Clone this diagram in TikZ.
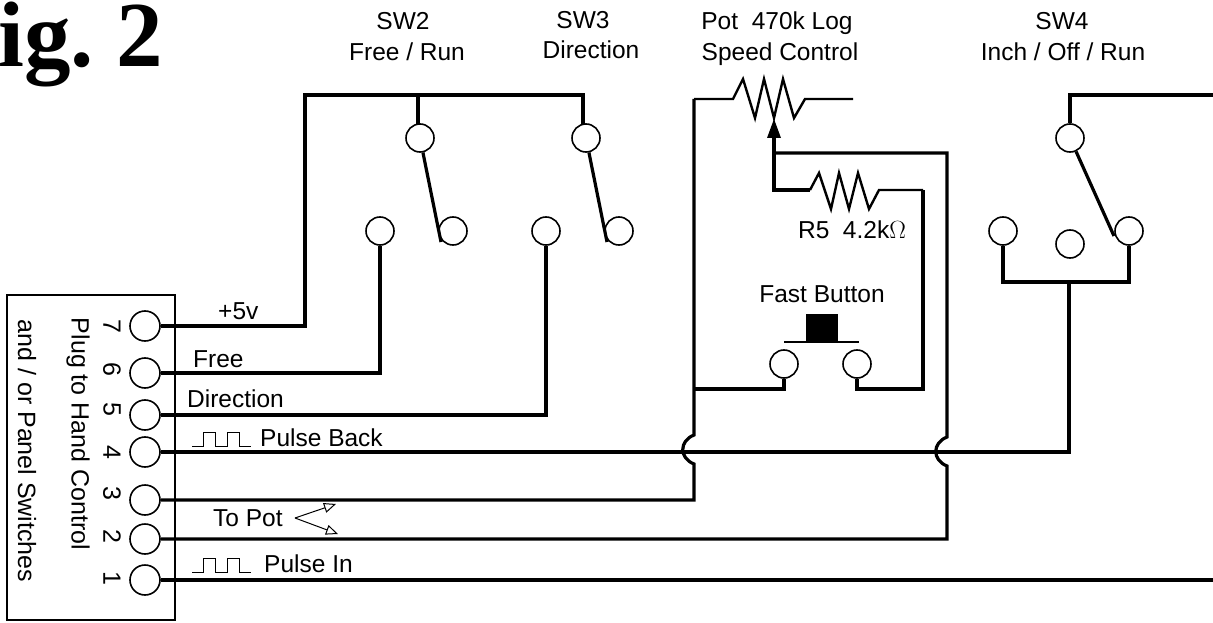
\documentclass[tikz,border=0pt]{standalone}
\usepackage{fontspec}
\setmainfont{Liberation Sans}
\newfontfamily\figfont{Liberation Serif}
\usetikzlibrary{arrows.meta}
\tikzset{
  contact/.style={draw,circle,line width=1.6pt,minimum size=28pt,inner sep=0pt},
  pin/.style={draw,circle,line width=1.6pt,minimum size=30pt,inner sep=0pt},
  lbl/.style={inner sep=0pt,font=\fontsize{24.5}{26}\selectfont},
  sidelbl/.style={inner sep=0pt,rotate=-90,font=\fontsize{25}{26}\selectfont},
  wire/.style={line width=3.2pt,line join=miter},
  thinwire/.style={line width=2.4pt,line join=miter},
  squarewave/.pic={\draw[line width=1pt] (0,0) -- (11,0) -- (11,-14) -- (23,-14) -- (23,0)
    -- (35,0) -- (35,-14) -- (47,-14) -- (47,0) -- (59,0);}
}
\begin{document}
\begin{tikzpicture}[x=1pt,y=-1pt]
      \useasboundingbox (0,0) rectangle (1213,623);
      \draw[line width=1.6pt] (7,295) rectangle (175,620);
      \draw
        (145,326) node[pin] (p7){}
        (145,373) node[pin] (p6){}
        (145,415) node[pin] (p5){}
        (145,452) node[pin] (p4){}
        (145,500) node[pin] (p3){}
        (145,539) node[pin] (p2){}
        (145,580) node[pin] (p1){};
      \draw
        (420,138) node[contact] (sw2c){}
        (380,231) node[contact] (sw2f){}
        (453,231) node[contact] (sw2r){}
        (586,138) node[contact] (sw3c){}
        (546,231) node[contact] (sw3f){}
        (619,231) node[contact] (sw3r){}
        (1070,138) node[contact] (sw4c){}
        (1003,231) node[contact] (sw4i){}
        (1070,244) node[contact] (sw4o){}
        (1129,231) node[contact] (sw4r){}
        (784,364) node[contact] (fb1){}
        (857,364) node[contact] (fb2){};
      \coordinate (a5v) at (305,326);
      \coordinate (b5v) at (305,95);
      \coordinate (c5v) at (583,95);
      \coordinate (d2) at (418,95);
      \coordinate (up2) at (418,124);
      \coordinate (up3) at (583,124);
      \coordinate (end2) at (441,242);
      \coordinate (end3) at (607,242);
      \coordinate (end4) at (1114,236);
      \coordinate (cor4) at (1069,452);
      \coordinate (bar4) at (1069,282);
      \coordinate (bar4l) at (1003,282);
      \coordinate (bar4r) at (1129,282);
      \coordinate (out4) at (1213,95);
      \coordinate (out1) at (1213,580);
      \coordinate (cor3) at (694,500);
      \coordinate (hopa1) at (694,464);
      \coordinate (hopa2) at (694,435);
      \coordinate (hopa3) at (679,458);
      \coordinate (hopa4) at (679,441);
      \coordinate (pota) at (694,99);
      \coordinate (cor2) at (947,539);
      \coordinate (hopb1) at (947,466);
      \coordinate (hopb2) at (947,437);
      \coordinate (hopb3) at (932,460);
      \coordinate (hopb4) at (932,443);
      \coordinate (wipb) at (947,153);
      \coordinate (wipa) at (774,153);
      \coordinate (wipc) at (774,190);
      \coordinate (wipd) at (774,136);
      \coordinate (wiptip) at (774,119);
      \coordinate (r5a) at (810,190);
      \coordinate (r5b) at (923,190);
      \coordinate (r5c) at (923,389);
      \coordinate (fb2b) at (857,389);
      \coordinate (fb1b) at (784,389);
      \coordinate (fb1c) at (694,389);
      \begin{scope}[wire]
        \draw (p7) -- (a5v) -- (b5v) -- (c5v) -- (up3);
        \draw (d2) -- (up2);
        \draw (sw2c) -- (end2);
        \draw (sw3c) -- (end3);
        \draw (sw4c) -- (end4);
        \draw (p6) -| (sw2f);
        \draw (p5) -| (sw3f);
        \draw (p4) -- (cor4) -- (bar4);
        \draw (sw4i) -- (bar4l) -- (bar4r) -- (sw4r);
        \draw (sw4c) |- (out4);
        \draw (p1) -- (out1);
        \draw (p3) -- (cor3) -- (hopa1) .. controls (hopa3) and (hopa4) .. (hopa2) -- (pota);
        \draw (p2) -- (cor2) -- (hopb1) .. controls (hopb3) and (hopb4) .. (hopb2) -- (wipb) -- (wipa);
        \draw (wipd) -- (wipc) -- (r5a);
        \draw (r5b) -- (r5c) -- (fb2b) -- (fb2);
        \draw (fb1) -- (fb1b) -- (fb1c);
      \end{scope}
      \begin{scope}[thinwire]
        \draw (pota) -- (733,99) -- (743,79) -- (755,118) -- (764,79) -- (774,118)
          -- (783,79) -- (794,118) -- (805,99) -- (853,99);
        \draw (r5a) -- (819,173) -- (831,209) -- (839,173) -- (849,209)
          -- (858,173) -- (869,209) -- (879,190) -- (r5b);
        \draw (784,342) -- (859,342);
      \end{scope}
      \fill (806,314) rectangle (838,342);
      \fill (wiptip) -- (767,138) -- (781,138) -- cycle;
      \draw
        (403,21) node[lbl] (sw2t){SW2}
        (407,52) node[lbl] (sw2u){Free / Run}
        (583,20) node[lbl] (sw3t){SW3}
        (591,50) node[lbl] (sw3u){Direction}
        (777,23) node[lbl] (pott){Pot\ \ 470k Log}
        (780,54) node[lbl] (potu){Speed Control}
        (1062,21) node[lbl] (sw4t){SW4}
        (1063,52) node[lbl] (sw4u){Inch / Off / Run}
        (852,230) node[lbl] (r5t){R5\ \ 4.2k\fontsize{23}{24}\selectfont$\Omega$}
        (822,294) node[lbl] (fbt){Fast Button}
        (218,311) node[lbl,anchor=west] (v5t){+5v}
        (193,359) node[lbl,anchor=west] (freet){Free}
        (187,399) node[lbl,anchor=west] (dirt){Direction}
        (260,438) node[lbl,anchor=west] (backt){Pulse Back}
        (213,518) node[lbl,anchor=west] (topot){To Pot}
        (264,564) node[lbl,anchor=west] (int){Pulse In}
        (78,434) node[sidelbl] (plugt){Plug to Hand Control}
        (27,451) node[sidelbl] (panelt){and / or Panel Switches}
        (112,326) node[sidelbl] (n7){7}
        (112,369) node[sidelbl] (n6){6}
        (112,409) node[sidelbl] (n5){5}
        (112,452) node[sidelbl] (n4){4}
        (112,493) node[sidelbl] (n3){3}
        (112,536) node[sidelbl] (n2){2}
        (112,578) node[sidelbl] (n1){1};
      \node[anchor=base west,inner sep=0pt,font=\figfont\bfseries\fontsize{93}{94}\selectfont] (figt) at (-2,67) {ig.\hspace{-8pt} 2};
      \coordinate (arrfrom) at (295,518);
      \coordinate (arrup) at (336,504);
      \coordinate (arrdn) at (338,534);
      \begin{scope}[line width=1pt,-{Triangle[open,length=12pt,width=10pt]}]
        \draw (arrfrom) -- (arrup);
        \draw (arrfrom) -- (arrdn);
      \end{scope}
      \pic at (192,446) {squarewave};
      \pic at (192,572) {squarewave};
\end{tikzpicture}
\end{document}
